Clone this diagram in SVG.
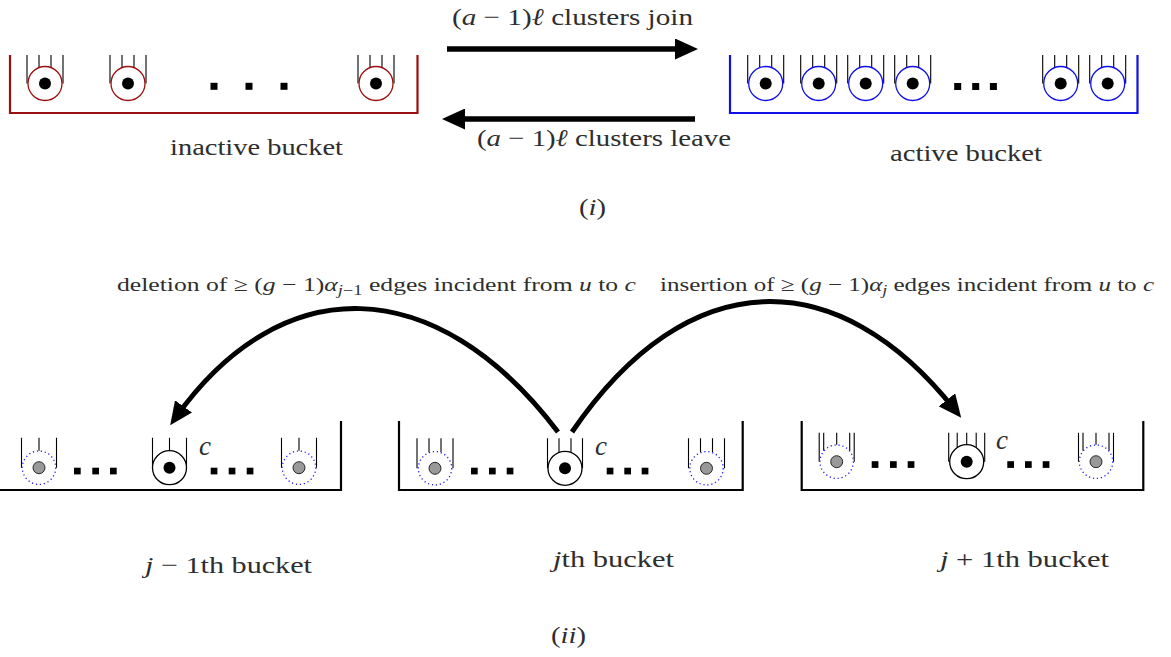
<svg xmlns="http://www.w3.org/2000/svg" xmlns:xlink="http://www.w3.org/1999/xlink" width="1171" height="657" viewBox="0 0 1171 657">
<style>
  text { font-family: "Liberation Serif", "DejaVu Serif", serif; fill: #2e2e2e; }
  .it { font-style: italic; }
  .lbl { font-size: 24px; }
  .small { font-size: 19.5px; }
  .sub { font-size: 14px; }
  .bucket { fill: none; stroke-width: 2.2; }
  .ln { stroke: #000; stroke-width: 1.1; fill: none; }
  .ring { fill: #fff; stroke-width: 1.3; }
  .dring { fill: #fff; stroke: #1a1aff; stroke-width: 1.3; stroke-dasharray: 1.2 2.8; }
  .core { fill: #000; }
  .gcore { fill: #999; stroke: #000; stroke-width: 0.8; }
  .sq { fill: #000; }
  .arr { fill: none; stroke: #000; }
  .clab { font-size: 27px; font-style: italic; }
</style>
<defs>
  <marker id="ah" viewBox="0 0 23 21" refX="13" refY="10.5" markerWidth="23" markerHeight="21" markerUnits="userSpaceOnUse" orient="auto">
    <path d="M0,0 L23,10.5 L0,21 z" fill="#000"/>
  </marker>
  <g id="nI">
    <path class="ln" d="M-18,-28.5 V0 M18,-28.5 V0 M-6,-28.5 V-16 M6,-28.5 V-16"/>
    <circle class="ring" r="17" stroke="currentColor"/>
    <circle class="core" r="6"/>
  </g>
  <g id="c3">
    <path class="ln" d="M-17,-30 V0 M17,-30 V0 M0,-30 V-17"/>
    <circle class="ring" r="17" stroke="#000"/>
    <circle class="core" r="6"/>
  </g>
  <g id="g3">
    <path class="ln" d="M-17.5,-30 V0 M17.5,-30 V0 M0,-30 V-17"/>
    <circle class="dring" r="16.7"/>
    <circle class="gcore" r="6"/>
  </g>
  <g id="c4">
    <path class="ln" d="M-17.5,-30 V0 M17.5,-30 V0 M-6,-30 V-16 M6,-30 V-16"/>
    <circle class="ring" r="17" stroke="#000"/>
    <circle class="core" r="6"/>
  </g>
  <g id="g4">
    <path class="ln" d="M-18,-30 V0 M18,-30 V0 M-6,-30 V-16 M6,-30 V-16"/>
    <circle class="dring" r="16.7"/>
    <circle class="gcore" r="6"/>
  </g>
  <g id="c5">
    <path class="ln" d="M-18,-29 V0 M18,-29 V0 M-9.5,-29 V-14 M9.5,-29 V-14 M0,-29 V-17"/>
    <circle class="ring" r="17" stroke="#000"/>
    <circle class="core" r="6"/>
  </g>
  <g id="g5">
    <path class="ln" d="M-17.5,-29 V0 M17.5,-29 V0 M-13,-29 V-11 M13,-29 V-11 M0,-29 V-17"/>
    <circle class="dring" r="16.7"/>
    <circle class="gcore" r="6"/>
  </g>
</defs>

<!-- ===== (i) ===== -->
<g id="inactive-bucket">
  <path class="bucket" stroke="#9a0f0f" d="M10,55 V113 H417.5 V55"/>
  <g id="ina-n1" color="#9a0f0f"><use xlink:href="#nI" x="45" y="83.5"/></g>
  <g id="ina-n2" color="#9a0f0f"><use xlink:href="#nI" x="128" y="83.5"/></g>
  <g id="ina-n3" color="#9a0f0f"><use xlink:href="#nI" x="376" y="83.5"/></g>
  <rect class="sq" x="210.5" y="82.8" width="7" height="7"/>
  <rect class="sq" x="245.5" y="82.8" width="7" height="7"/>
  <rect class="sq" x="280.5" y="82.8" width="7" height="7"/>
  <text class="lbl" x="170" y="155" textLength="173" lengthAdjust="spacingAndGlyphs">inactive bucket</text>
</g>

<g id="active-bucket">
  <path class="bucket" stroke="#1010e6" d="M730,55 V113 H1137.5 V55"/>
  <g id="act-n1" color="#1010e6"><use xlink:href="#nI" x="765.7" y="83.5"/></g>
  <g id="act-n2" color="#1010e6"><use xlink:href="#nI" x="818.7" y="83.5"/></g>
  <g id="act-n3" color="#1010e6"><use xlink:href="#nI" x="865.7" y="83.5"/></g>
  <g id="act-n4" color="#1010e6"><use xlink:href="#nI" x="912.7" y="83.5"/></g>
  <g id="act-n5" color="#1010e6"><use xlink:href="#nI" x="1060.7" y="83.5"/></g>
  <g id="act-n6" color="#1010e6"><use xlink:href="#nI" x="1107.7" y="83.5"/></g>
  <rect class="sq" x="954.2" y="83" width="7" height="7"/>
  <rect class="sq" x="972.2" y="83" width="7" height="7"/>
  <rect class="sq" x="989.9" y="83" width="7" height="7"/>
  <text class="lbl" x="890" y="161" textLength="152" lengthAdjust="spacingAndGlyphs">active bucket</text>
</g>

<text class="lbl" x="579" y="215" textLength="27" lengthAdjust="spacingAndGlyphs">(<tspan class="it">i</tspan>)</text>

<!-- ===== (ii) ===== -->
<g id="bucket-jm1">
  <path class="bucket" stroke="#000" d="M-3,421 V490 H341 V421"/>
  <g id="b1-n1"><use xlink:href="#g3" x="39" y="467.7"/></g>
  <g id="b1-c"><use xlink:href="#c3" x="169.5" y="467.7"/></g>
  <g id="b1-n3"><use xlink:href="#g3" x="299" y="467.7"/></g>
  <rect class="sq" x="74" y="467.7" width="6.7" height="6.7"/>
  <rect class="sq" x="92.3" y="467.7" width="6.7" height="6.7"/>
  <rect class="sq" x="110" y="467.7" width="6.7" height="6.7"/>
  <rect class="sq" x="210.7" y="467.7" width="6.7" height="6.7"/>
  <rect class="sq" x="228.7" y="467.7" width="6.7" height="6.7"/>
  <rect class="sq" x="246.7" y="467.7" width="6.7" height="6.7"/>
  <text class="clab" x="199" y="455">c</text>
  <text class="lbl" x="145" y="573" textLength="167" lengthAdjust="spacingAndGlyphs"><tspan class="it">j</tspan> − 1th bucket</text>
</g>

<g id="bucket-j">
  <path class="bucket" stroke="#000" d="M399,421 V490 H742.7 V421"/>
  <g id="b2-n1"><use xlink:href="#g4" x="435" y="468.3"/></g>
  <g id="b2-c"><use xlink:href="#c4" x="565" y="468.3"/></g>
  <g id="b2-n3"><use xlink:href="#g4" x="706.5" y="468.3"/></g>
  <rect class="sq" x="471" y="467.7" width="6.7" height="6.7"/>
  <rect class="sq" x="489" y="467.7" width="6.7" height="6.7"/>
  <rect class="sq" x="506.7" y="467.7" width="6.7" height="6.7"/>
  <rect class="sq" x="606.7" y="467.7" width="6.7" height="6.7"/>
  <rect class="sq" x="624.3" y="467.7" width="6.7" height="6.7"/>
  <rect class="sq" x="641.7" y="467.7" width="6.7" height="6.7"/>
  <text class="clab" x="595" y="455">c</text>
  <text class="lbl" x="553" y="567" textLength="121" lengthAdjust="spacingAndGlyphs"><tspan class="it">j</tspan>th bucket</text>
</g>

<g id="bucket-jp1">
  <path class="bucket" stroke="#000" d="M801.7,421 V490 H1143.3 V421"/>
  <g id="b3-n1"><use xlink:href="#g5" x="836.7" y="461.7"/></g>
  <g id="b3-c"><use xlink:href="#c5" x="966.7" y="461.7"/></g>
  <g id="b3-n3"><use xlink:href="#g5" x="1096" y="461.7"/></g>
  <rect class="sq" x="871.7" y="461.2" width="6.7" height="6.7"/>
  <rect class="sq" x="890" y="461.2" width="6.7" height="6.7"/>
  <rect class="sq" x="907.7" y="461.2" width="6.7" height="6.7"/>
  <rect class="sq" x="1007.3" y="461.2" width="6.7" height="6.7"/>
  <rect class="sq" x="1025" y="461.2" width="6.7" height="6.7"/>
  <rect class="sq" x="1042.7" y="461.2" width="6.7" height="6.7"/>
  <text class="clab" x="996" y="449">c</text>
  <text class="lbl" x="940" y="567" textLength="169" lengthAdjust="spacingAndGlyphs"><tspan class="it">j</tspan> + 1th bucket</text>
</g>

<text class="lbl" x="551" y="643" textLength="35" lengthAdjust="spacingAndGlyphs">(<tspan class="it">ii</tspan>)</text>

<!-- ===== connectors ===== -->
<g id="connectors">
  <path id="e-join" class="arr" stroke-width="5.6" d="M447,49 H688" marker-end="url(#ah)"/>
  <path id="e-leave" class="arr" stroke-width="5.6" d="M695,119 H452" marker-end="url(#ah)"/>
  <path id="e-delete" class="arr" stroke-width="5" d="M558,432 C435,270 281,270 176,417" marker-end="url(#ah)"/>
  <path id="e-insert" class="arr" stroke-width="5" d="M572,432 C688,262 838,262 955,410" marker-end="url(#ah)"/>
  <text class="lbl" x="452" y="25" textLength="241" lengthAdjust="spacingAndGlyphs">(<tspan class="it">a</tspan> − 1)<tspan class="it">ℓ</tspan> clusters join</text>
  <text class="lbl" x="477" y="146" textLength="254" lengthAdjust="spacingAndGlyphs">(<tspan class="it">a</tspan> − 1)<tspan class="it">ℓ</tspan> clusters leave</text>
  <text class="small" x="117" y="291" textLength="519" lengthAdjust="spacingAndGlyphs">deletion of ≥ (<tspan class="it">g</tspan> − 1)<tspan class="it">α</tspan><tspan class="sub" dy="4"><tspan class="it">j</tspan>−1</tspan><tspan dy="-4"> edges incident from </tspan><tspan class="it">u</tspan> to <tspan class="it">c</tspan></text>
  <text class="small" x="660" y="291" textLength="494" lengthAdjust="spacingAndGlyphs">insertion of ≥ (<tspan class="it">g</tspan> − 1)<tspan class="it">α</tspan><tspan class="sub it" dy="4">j</tspan><tspan dy="-4"> edges incident from </tspan><tspan class="it">u</tspan> to <tspan class="it">c</tspan></text>
</g>
</svg>
